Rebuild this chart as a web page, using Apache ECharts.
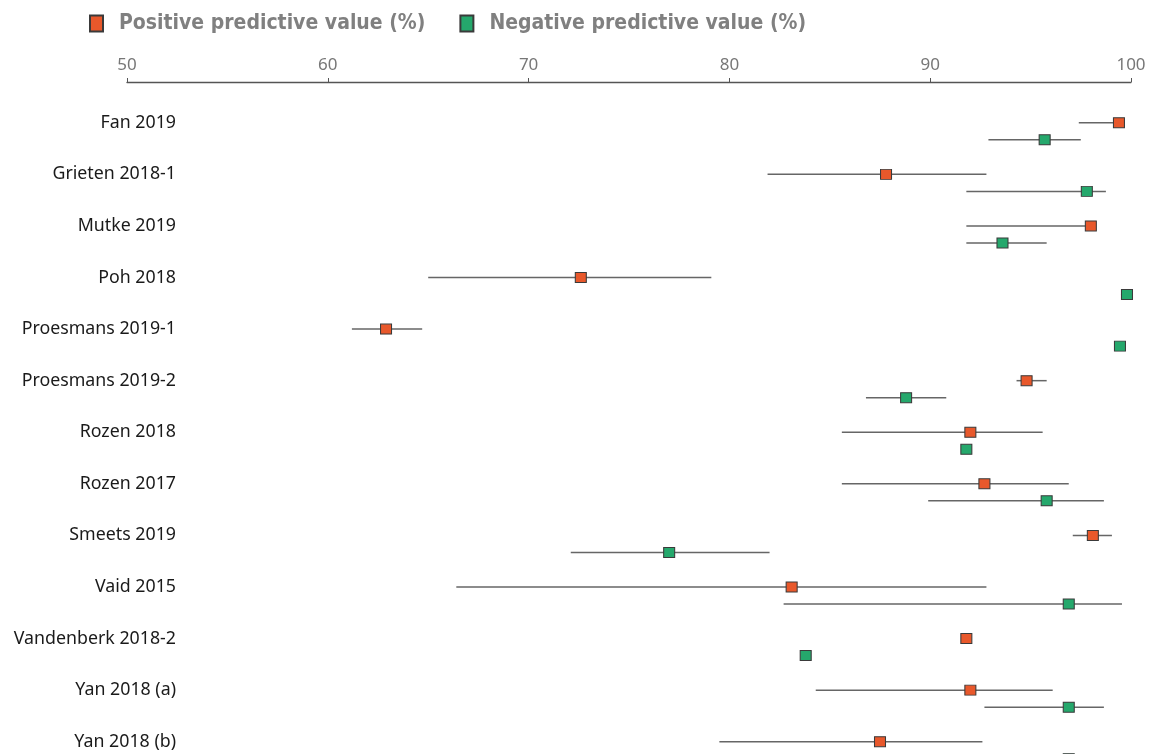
<!DOCTYPE html>
<html>
<head>
<meta charset="utf-8">
<script src="https://cdn.jsdelivr.net/npm/echarts@6/dist/echarts.min.js"></script>
<style>html,body{margin:0;padding:0;background:#fff}#c{width:1153px;height:754px}</style>
</head>
<body>
<div id="c"></div>
<script>
const categories = ['Fan 2019','Grieten 2018-1','Mutke 2019','Poh 2018','Proesmans 2019-1','Proesmans 2019-2','Rozen 2018','Rozen 2017','Smeets 2019','Vaid 2015','Vandenberk 2018-2','Yan 2018 (a)','Yan 2018 (b)'];
const ppv   = [99.4, 87.8, 98.0, 72.6, 62.9, 94.8, 92.0, 92.7, 98.1, 83.1, 91.8, 92.0, 87.5];
const ppvLo = [97.4, 81.9, 91.8, 65.0, 61.2, 94.3, 85.6, 85.6, 97.1, 66.4, null, 84.3, 79.5];
const ppvHi = [99.7, 92.8, 98.0, 79.1, 64.7, 95.8, 95.6, 96.9, 99.05, 92.8, null, 96.1, 92.6];
const npv   = [95.7, 97.8, 93.6, 99.8, 99.45, 88.8, 91.8, 95.8, 77.0, 96.9, 83.8, 96.9, 96.9];
const npvLo = [92.9, 91.8, 91.8, 99.5, null, 86.8, null, 89.9, 72.1, 82.7, null, 92.7, 93.0];
const npvHi = [97.5, 98.75, 95.8, 99.9, null, 90.8, null, 98.65, 82.0, 99.55, null, 98.65, 99.0];
const xTicks = [50, 60, 70, 80, 90, 100];
const ppvName = 'Positive predictive value (%)';
const npvName = 'Negative predictive value (%)';

const NPV_OFFSET = 0.33;
const ppvPts = ppv.map((v, i) => [v, i]);
const npvPts = npv.map((v, i) => [v, i + NPV_OFFSET]);
const bars = [];
ppv.forEach((v, i) => { if (ppvLo[i] != null) bars.push([ppvLo[i], ppvHi[i], i]); });
npv.forEach((v, i) => { if (npvLo[i] != null) bars.push([npvLo[i], npvHi[i], i + NPV_OFFSET]); });

const chart = echarts.init(document.getElementById('c'));
chart.setOption({
  animation: false,
  backgroundColor: '#fff',
  legend: {
    left: 84, top: 8,
    itemWidth: 13, itemHeight: 16, itemGap: 34,
    textStyle: { fontFamily: '"Liberation Sans Narrow","DejaVu Sans Condensed","Noto Sans",sans-serif', fontWeight: 'bold', fontSize: 21, color: '#808080', padding: [0, 0, 0, 11] },
    data: [{ name: ppvName, icon: 'rect' }, { name: npvName, icon: 'rect' }]
  },
  grid: { left: 127, right: 22, top: 97, bottom: -13.5, containLabel: false, outerBoundsMode: 'none' },
  xAxis: {
    type: 'value', position: 'top', min: 50, max: 100, interval: 10, offset: 15,
    axisLine: { show: true, onZero: false, lineStyle: { color: '#555', width: 1.3 } },
    axisTick: { show: true, length: 4, lineStyle: { color: '#555' } },
    axisLabel: { fontFamily: '"Noto Sans",sans-serif', fontSize: 17, color: '#777', margin: 8,
      formatter: v => xTicks.includes(v) ? String(v) : '' },
    splitLine: { show: false }
  },
  yAxis: [
    { type: 'category', data: categories, inverse: true, offset: -57,
      axisLine: { show: false }, axisTick: { show: false }, splitLine: { show: false },
      axisLabel: { fontFamily: '"Noto Sans",sans-serif', fontSize: 17.8, color: '#1a1a1a', margin: 8 } },
    { type: 'value', inverse: true, min: -0.5, max: 12.5, show: false }
  ],
  series: [
    { type: 'custom', yAxisIndex: 1, data: bars, z: 1, silent: true,
      renderItem: (params, api) => {
        const a = api.coord([api.value(0), api.value(2)]);
        const b = api.coord([api.value(1), api.value(2)]);
        return { type: 'line', shape: { x1: a[0], y1: a[1], x2: b[0], y2: b[1] },
          style: { stroke: '#666', lineWidth: 1.5 } };
      } },
    { name: ppvName, type: 'scatter', yAxisIndex: 1, data: ppvPts, symbol: 'rect', symbolSize: [11, 10], z: 3,
      itemStyle: { color: '#e8582b', borderColor: '#3a3a3a', borderWidth: 1, opacity: 1 } },
    { name: npvName, type: 'scatter', yAxisIndex: 1, data: npvPts, symbol: 'rect', symbolSize: [11, 10], z: 3,
      itemStyle: { color: '#25a86c', borderColor: '#3a3a3a', borderWidth: 1, opacity: 1 } }
  ]
});
</script>
</body>
</html>
